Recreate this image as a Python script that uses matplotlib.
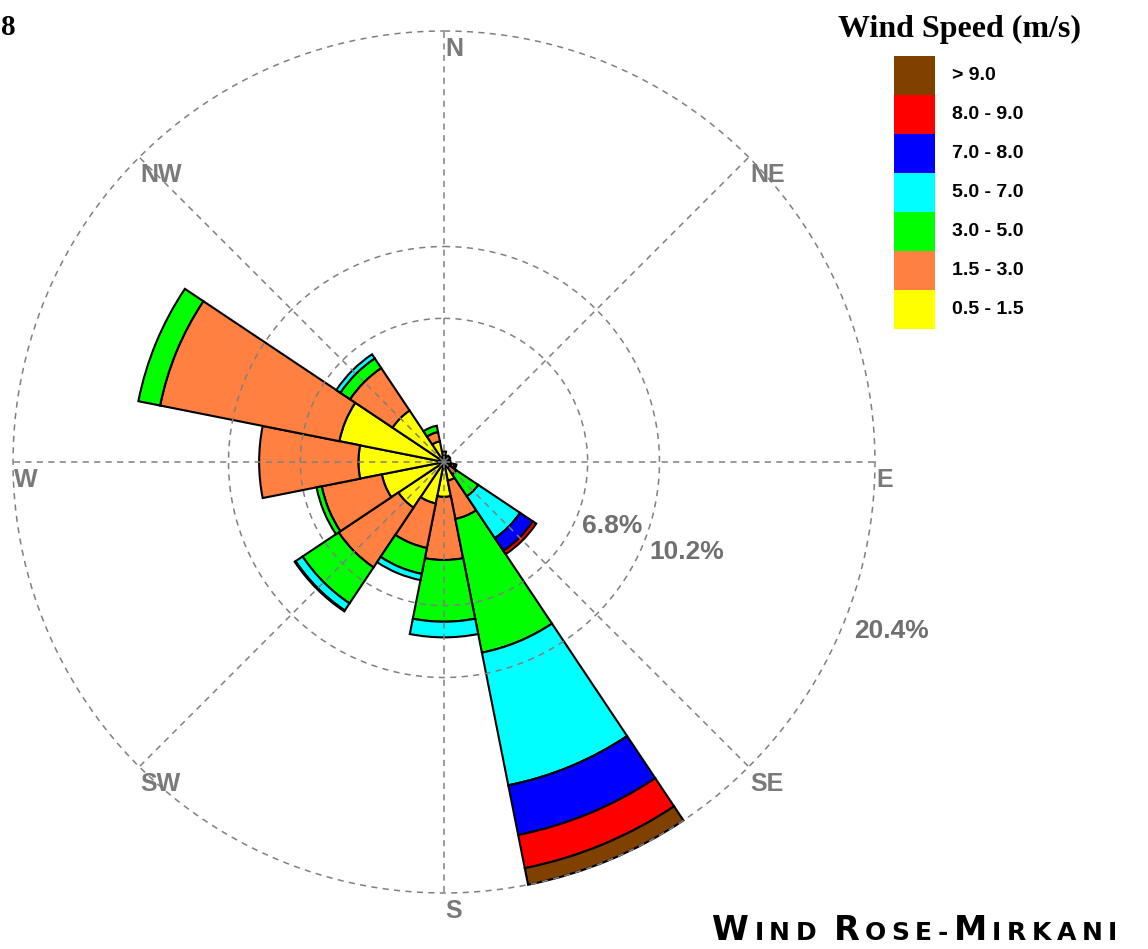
import numpy as np
import matplotlib
matplotlib.use('Agg')
import matplotlib.pyplot as plt

# wind rose data, percent of time per direction and speed class
directions = ['N', 'NNE', 'NE', 'ENE', 'E', 'ESE', 'SE', 'SSE',
              'S', 'SSW', 'SW', 'WSW', 'W', 'WNW', 'NW', 'NNW']
dir_angles = np.arange(16) * 22.5

s05_15 = [0.5, 0.3, 0.35, 0.3, 0.3, 0.35, 0.3, 0.9, 1.65, 2.0, 2.6, 3.0, 4.05, 5.05, 2.93, 1.0]
s15_30 = [0, 0, 0, 0, 0, 0.15, 0.4, 1.85, 2.99, 2.15, 3.4, 2.9, 4.7, 8.65, 2.42, 0.45]
s30_50 = [0, 0, 0, 0, 0, 0.1, 1.25, 6.45, 2.92, 1.25, 2.05, 0.25, 0, 1.05, 0.55, 0.3]
s50_70 = [0, 0, 0, 0, 0, 0, 2.38, 6.4, 0.74, 0.3, 0.4, 0, 0, 0, 0.23, 0]
s70_80 = [0, 0, 0, 0, 0, 0, 0.73, 2.4, 0, 0, 0.05, 0, 0, 0, 0, 0]
s80_90 = [0, 0, 0, 0, 0, 0, 0.19, 1.6, 0, 0, 0, 0, 0, 0, 0, 0]
s_gt90 = [0, 0, 0, 0, 0, 0, 0, 0.8, 0, 0, 0, 0, 0, 0, 0, 0]

speed_classes = [s05_15, s15_30, s30_50, s50_70, s70_80, s80_90, s_gt90]
speed_labels = ['0.5 - 1.5', '1.5 - 3.0', '3.0 - 5.0', '5.0 - 7.0',
                '7.0 - 8.0', '8.0 - 9.0', '> 9.0']
speed_colors = ['#FFFF00', '#FF8040', '#00FF00', '#00FFFF',
                '#0000FF', '#FF0000', '#804000']

rings = [6.8, 10.2, 20.4]
ring_labels = ['6.8%', '10.2%', '20.4%']
compass = ['N', 'NE', 'E', 'SE', 'S', 'SW', 'W', 'NW']
compass_angles = [0, 45, 90, 135, 180, 225, 270, 315]

W, H = 1148, 949
fig = plt.figure(figsize=(W / 100, H / 100), dpi=100)

ax = fig.add_axes([13 / W, 56 / H, 862 / W, 862 / H], projection='polar')
ax.set_theta_zero_location('N')
ax.set_theta_direction(-1)
ax.set_ylim(0, rings[-1])
ax.grid(False)
ax.set_xticks([])
ax.set_yticks([])
ax.spines['polar'].set_visible(False)

theta = np.deg2rad(dir_angles)
width = 2 * np.pi / 16
bottom = np.zeros(16)
for vals, col in zip(speed_classes, speed_colors):
    vals = np.array(vals, dtype=float)
    m = vals > 0
    ax.bar(theta[m], vals[m], width=width, bottom=bottom[m], color=col,
           edgecolor='black', linewidth=1.5, zorder=2, clip_on=False)
    bottom += vals

# dashed grid on top of the bars
grid_kw = dict(color='#808080', lw=1.1, ls=(0, (4, 3.5)), zorder=3, clip_on=False)
circ = np.linspace(0, 2 * np.pi, 400)
for r in rings:
    ax.plot(circ, np.full_like(circ, r), **grid_kw)
for a in compass_angles:
    ax.plot([np.deg2rad(a)] * 2, [0, rings[-1]], **grid_kw)

for lab, a in zip(compass, compass_angles):
    ax.annotate(lab, xy=(np.deg2rad(a), rings[-1]), xytext=(1, -4),
                textcoords='offset points', ha='left', va='top',
                fontsize=18, color='#7a7a7a', fontweight='bold',
                family='Liberation Sans', annotation_clip=False)

for r, lab in zip(rings, ring_labels):
    ax.annotate(lab, xy=(np.deg2rad(111), r * 1.015), xytext=(1, 0),
                textcoords='offset points', ha='left', va='top',
                fontsize=19, color='#707070', fontweight='bold',
                family='Liberation Sans', annotation_clip=False)

# legend
lax = fig.add_axes([894 / W, 620 / H, 41 / W, 273 / H])
lax.bar(np.zeros(7), np.ones(7), width=1, bottom=np.arange(7), color=speed_colors)
lax.set_xlim(-0.5, 0.5)
lax.set_ylim(0, 7)
lax.axis('off')
for i, lab in enumerate(speed_labels):
    lax.text(0.5 + 17 / 41, i + 0.5, lab, ha='left', va='center', fontsize=14,
             fontweight='bold', family='Liberation Sans', clip_on=False)

fig.text(959 / W, 1 - 29 / H, 'Wind Speed (m/s)', ha='center', va='center',
         family='Liberation Serif', fontweight='bold', fontsize=23)
fig.text(1 / W, 1 - 35 / H, '8', ha='left', va='baseline',
         family='Liberation Serif', fontweight='bold', fontsize=21)

# bottom caption in small caps, one letter at a time
caption = [('W', 1), ('I', 0), ('N', 0), ('D', 0), (' ', 0), ('R', 1), ('O', 0),
           ('S', 0), ('E', 0), ('-', 0), ('M', 1), ('I', 0), ('R', 0), ('K', 0),
           ('A', 0), ('N', 0), ('I', 0)]
renderer = fig.canvas.get_renderer()
x = 712
for ch, big in caption:
    if ch == ' ':
        x += 12
        continue
    t = fig.text(x / W, 1 - 940 / H, ch, ha='left', va='baseline',
                 family='DejaVu Sans', fontweight='bold',
                 fontsize=24 if big else 18)
    bb = t.get_window_extent(renderer)
    x = bb.x1 + 5.5

fig.savefig('out.png', dpi=100)
